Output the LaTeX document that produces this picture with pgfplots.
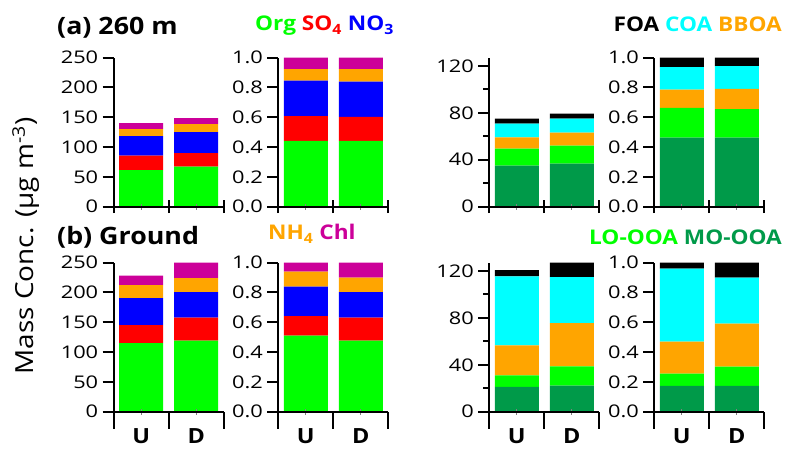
\documentclass[border=0pt]{standalone}
\usepackage{fontspec}
\setmainfont[FakeStretch=1.12]{Open Sans}
\newfontfamily\tickfamily[FakeStretch=1.25]{Open Sans}
\usepackage{pgfplots}
\pgfplotsset{compat=1.18}

% species colours
\definecolor{org}{HTML}{00FF00}
\definecolor{so4}{HTML}{FF0000}
\definecolor{no3}{HTML}{0000FF}
\definecolor{nh4}{HTML}{FFA500}
\definecolor{chl}{HTML}{CC0099}
\definecolor{foa}{HTML}{000000}
\definecolor{coa}{HTML}{00FFFF}
\definecolor{bboa}{HTML}{FFA500}
\definecolor{looa}{HTML}{00FF00}
\definecolor{moooa}{HTML}{009A49}

\newcommand\tickfont{\tickfamily\fontsize{17.5}{20}\selectfont}
\newcommand\titlefont{\fontsize{24}{28}\selectfont\bfseries}
\newcommand\keyfont{\fontsize{20.3}{24}\selectfont\bfseries}
\newcommand\labelfont{\fontsize{25}{28}\selectfont}

\pgfplotsset{
  panel/.style={
    scale only axis, width=110bp, height=149bp, anchor=south west,
    xmin=-0.5, xmax=1.5, ymin=0,
    ybar stacked, bar width=0.8,
    axis x line=bottom, axis y line=left,
    x axis line style={-}, y axis line style={-},
    axis line style={line width=2.2bp, black},
    axis on top,
    tick align=outside,
    major tick length=11bp, minor tick length=6bp,
    tick style={line width=2bp, black},
    xtick={0,1}, xticklabels={},
    major x tick style={draw=none},
    minor xtick={0,1},
    minor x tick style={draw=gray, line width=1bp, yshift=3bp},
    extra x ticks={-0.5,0.5,1.5}, extra x tick labels={},
    /pgf/number format/assume math mode=true,
    tick label style={font=\tickfont},
    yticklabel style={xshift=-1bp},
  },
  rowa/.style={
    extra x tick style={major tick length=13bp, tick align=center,
      major x tick style={draw=black}},
  },
  rowb/.style={
    extra x tick style={major tick length=17bp, tick align=outside,
      major x tick style={draw=black}},
    xticklabels={\textbf{U},\textbf{D}},
    xticklabel style={font=\fontsize{21}{24}\selectfont\bfseries, yshift=-2bp},
  },
  conc/.style={ymax=250, ytick={0,50,100,150,200,250}},
  frac/.style={ymax=1, ytick={0,0.2,0.4,0.6,0.8,1},
    yticklabel style={/pgf/number format/.cd, fixed, fixed zerofill, precision=1}},
  oaconc/.style={ymax=127, ytick={0,40,80,120}, minor ytick={20,60,100}},
  bars/.style={draw=none, fill=#1},
}

\begin{document}
\begin{tikzpicture}[x=1bp, y=1bp]
\useasboundingbox (0,0) rectangle (787,449);

% ---------- (a) 260 m ----------
\begin{axis}[panel, rowa, conc, at={(113.7bp,242.3bp)}]
  \addplot[bars=org] coordinates {(0,61.5) (1,67.1)};
  \addplot[bars=so4] coordinates {(0,24.1) (1,22.9)};
  \addplot[bars=no3] coordinates {(0,33.0) (1,35.3)};
  \addplot[bars=nh4] coordinates {(0,11.7) (1,13.4)};
  \addplot[bars=chl] coordinates {(0,10.1) (1,10.1)};
\end{axis}
\begin{axis}[panel, rowa, frac, at={(278.3bp,242.3bp)}]
  \addplot[bars=org] coordinates {(0,0.441) (1,0.441)};
  \addplot[bars=so4] coordinates {(0,0.167) (1,0.161)};
  \addplot[bars=no3] coordinates {(0,0.238) (1,0.237)};
  \addplot[bars=nh4] coordinates {(0,0.078) (1,0.085)};
  \addplot[bars=chl] coordinates {(0,0.076) (1,0.076)};
\end{axis}
\begin{axis}[panel, rowa, oaconc, at={(489.3bp,242.3bp)}]
  \addplot[bars=moooa] coordinates {(0,34.9) (1,36.6)};
  \addplot[bars=looa]  coordinates {(0,14.5) (1,15.4)};
  \addplot[bars=bboa]  coordinates {(0,9.7) (1,11.1)};
  \addplot[bars=coa]   coordinates {(0,11.8) (1,12.0)};
  \addplot[bars=foa]   coordinates {(0,4.2) (1,4.3)};
\end{axis}
\begin{axis}[panel, rowa, frac, at={(654.3bp,242.3bp)}]
  \addplot[bars=moooa] coordinates {(0,0.463) (1,0.463)};
  \addplot[bars=looa]  coordinates {(0,0.201) (1,0.192)};
  \addplot[bars=bboa]  coordinates {(0,0.121) (1,0.135)};
  \addplot[bars=coa]   coordinates {(0,0.152) (1,0.154)};
  \addplot[bars=foa]   coordinates {(0,0.063) (1,0.056)};
\end{axis}

% ---------- (b) Ground ----------
\begin{axis}[panel, rowb, conc, at={(113.7bp,37.3bp)}]
  \addplot[bars=org] coordinates {(0,115.2) (1,119.1)};
  \addplot[bars=so4] coordinates {(0,30.2) (1,38.6)};
  \addplot[bars=no3] coordinates {(0,45.3) (1,43.1)};
  \addplot[bars=nh4] coordinates {(0,21.8) (1,23.5)};
  \addplot[bars=chl] coordinates {(0,15.7) (1,25.7)};
\end{axis}
\begin{axis}[panel, rowb, frac, at={(278.3bp,37.3bp)}]
  \addplot[bars=org] coordinates {(0,0.510) (1,0.477)};
  \addplot[bars=so4] coordinates {(0,0.132) (1,0.154)};
  \addplot[bars=no3] coordinates {(0,0.197) (1,0.172)};
  \addplot[bars=nh4] coordinates {(0,0.101) (1,0.096)};
  \addplot[bars=chl] coordinates {(0,0.060) (1,0.101)};
\end{axis}
\begin{axis}[panel, rowb, oaconc, at={(489.3bp,37.3bp)}]
  \addplot[bars=moooa] coordinates {(0,21.1) (1,22.3)};
  \addplot[bars=looa]  coordinates {(0,9.8) (1,16.3)};
  \addplot[bars=bboa]  coordinates {(0,25.7) (1,36.8)};
  \addplot[bars=coa]   coordinates {(0,58.8) (1,39.2)};
  \addplot[bars=foa]   coordinates {(0,5.2) (1,12.4)};
\end{axis}
\begin{axis}[panel, rowb, frac, at={(654.3bp,37.3bp)}]
  \addplot[bars=moooa] coordinates {(0,0.174) (1,0.174)};
  \addplot[bars=looa]  coordinates {(0,0.081) (1,0.128)};
  \addplot[bars=bboa]  coordinates {(0,0.215) (1,0.289)};
  \addplot[bars=coa]   coordinates {(0,0.490) (1,0.308)};
  \addplot[bars=foa]   coordinates {(0,0.040) (1,0.101)};
\end{axis}

% panel titles and colour keys
\node[anchor=base west, inner sep=0, font=\titlefont] at (57,414) {(a) 260 m};
\node[anchor=base west, inner sep=0, font=\keyfont] at (255,418)
  {\textcolor{org}{Org} \textcolor{so4}{SO\textsubscript{4}} \textcolor{no3}{NO\textsubscript{3}}};
\node[anchor=base east, inner sep=0, font=\keyfont] at (782,417.3)
  {\textcolor{foa}{FOA} \textcolor{coa}{COA} \textcolor{bboa}{BBOA}};
\node[anchor=base west, inner sep=0, font=\titlefont] at (57,204) {(b) Ground};
\node[anchor=base west, inner sep=0, font=\keyfont] at (268,209)
  {\textcolor{nh4}{NH\textsubscript{4}} \textcolor{chl}{Chl}};
\node[anchor=base east, inner sep=0, font=\keyfont] at (782,204)
  {\textcolor{looa}{LO-OOA} \textcolor{moooa}{MO-OOA}};

% shared y-axis title
\node[rotate=90, inner sep=0, font=\labelfont] at (26,203) {Mass Conc. (µg m\textsuperscript{-3})};
\end{tikzpicture}
\end{document}
